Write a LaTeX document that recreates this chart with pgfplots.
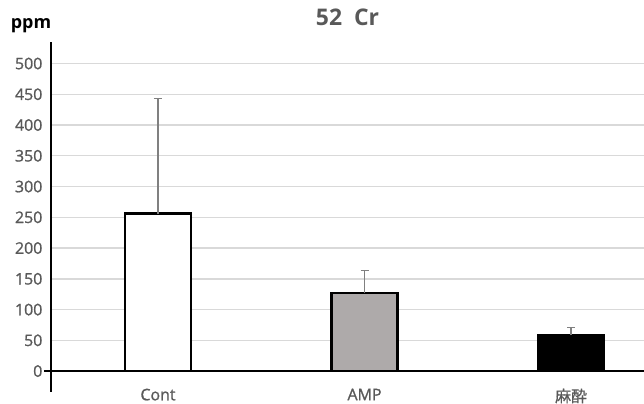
\documentclass[border=0pt]{standalone}
\usepackage{fontspec}
\setmainfont{Open Sans}
\newfontfamily\sbf{Open Sans}[FakeBold=1.2]
\newfontfamily\cjk{Noto Sans CJK JP}[FakeBold=0.8]
\usepackage{pgfplots}
\pgfplotsset{compat=1.18}
\definecolor{txt}{HTML}{595959}
\definecolor{ampgray}{HTML}{AEAAAA}
\definecolor{gridc}{HTML}{D9D9D9}
\definecolor{errc}{HTML}{808080}
\pgfplotsset{
  myerr/.style={
    error bars/.cd, y dir=plus, y explicit,
    error mark=|,
    error bar style={draw=errc, line width=1.2bp, solid},
    error mark options={draw=errc, line width=1.2bp, mark size=4bp, solid}
  }
}
\begin{document}
\begin{tikzpicture}
\begin{axis}[
  scale only axis, width=593bp, height=350bp,
  xmin=-0.518, xmax=2.353, ymin=-34, ymax=535,
  axis x line=middle, axis y line=left,
  axis line style={-},
  x axis line style={line width=2.3bp, shorten <=-7bp},
  y axis line style={line width=2.5bp},
  xtick={0,1,2}, xticklabels={Cont,AMP,{\cjk 麻酔}},
  ytick={0,50,...,500},
  tick style={draw=none},
  ymajorgrids, grid style={gridc, line width=1.4bp},
  tick label style={font=\sbf\fontsize{16}{19}\selectfont, text=txt},
  yticklabel style={xshift=-3bp},
  xticklabel style={yshift=-12bp},
  /pgf/number format/assume math mode=true,
  title={52\ \ Cr},
  title style={at={(0.5,1)}, anchor=center, yshift=19bp, font=\bfseries\fontsize{23}{27}\selectfont, text=txt},
  clip=false,
]
\addplot[ybar, bar width=0.32, bar shift=0pt, fill=white, draw=black, line width=2.5bp, myerr]
  coordinates {(0,256) +- (0,187)};
\addplot[ybar, bar width=0.32, bar shift=0pt, fill=ampgray, draw=black, line width=2.5bp, myerr]
  coordinates {(1,127) +- (0,36)};
\addplot[ybar, bar width=0.32, bar shift=0pt, fill=black, draw=black, line width=2.5bp, myerr]
  coordinates {(2,58) +- (0,12.5)};
\end{axis}
\node[font=\bfseries\fontsize{18}{21}\selectfont, text=black] at (-20bp,366bp) {ppm};
\pgfresetboundingbox
\path (-51bp,-12bp) rectangle (593bp,392bp);
\end{tikzpicture}
\end{document}
